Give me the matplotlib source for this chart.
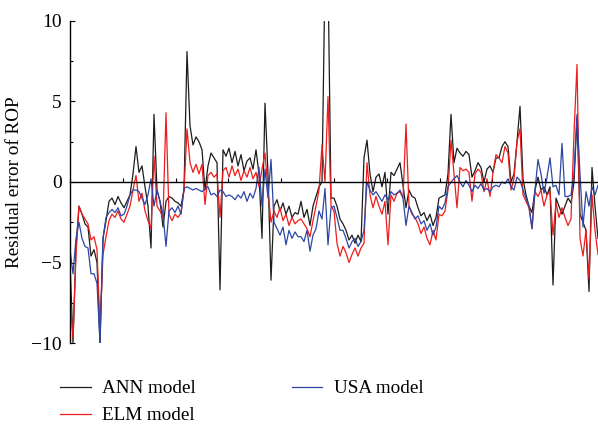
import numpy as np
import matplotlib
matplotlib.use("Agg")
import matplotlib.pyplot as plt
from matplotlib.ticker import MultipleLocator

# Residual error of ROP for each model along the sample sequence
ann_model = [
    -5.0, -10.0, -4.0, -1.5, -2.0, -2.6, -2.8, -4.6, -4.2, -5.0,
    -10.0, -3.5, -2.4, -1.2, -1.0, -1.4, -0.9, -1.3, -1.6, -1.2,
    -0.8, 0.5, 2.2, 0.6, 1.0, -0.3, -1.5, -4.1, 4.2, -0.5,
    -1.2, -2.8, -1.2, -0.9, -1.0, -1.2, -1.3, -1.5, -0.5, 8.1,
    3.5, 2.3, 2.8, 2.5, 2.0, -0.5, 1.0, 1.8, 1.5, 1.2,
    -6.7, 2.0, 1.6, 2.1, 1.2, 1.9, 1.0, 1.7, 0.7, 1.3,
    1.5, 0.8, 2.0, 0.5, -3.5, 4.9, 0.5, -6.1, -1.5, -1.1,
    -1.8, -1.3, -2.0, -1.5, -2.2, -1.9, -2.0, -1.2, -2.2, -1.7,
    -2.7, -1.5, -0.9, -0.3, 0.0, 13.0, 13.0, -1.0, -1.0, -1.5,
    -2.3, -2.6, -3.0, -3.6, -3.3, -3.8, -3.3, -3.7, 1.5, 2.6,
    0.5, -0.6, 0.3, 0.5, -0.3, 0.6, -2.0, 0.6, 0.4, 0.8,
    1.2, -0.2, -1.6, -0.5, -0.9, -1.0, -1.6, -2.1, -1.9, -2.4,
    -2.0, -2.7, -2.2, -1.0, -0.9, -0.8, 0.5, 4.2, 1.2, 2.1,
    1.8, 1.6, 1.9, 1.7, 0.3, 0.7, 1.2, 0.9, 0.0, 0.8,
    1.0, 0.6, 1.5, 1.5, 2.2, 2.5, 2.2, 0.0, 0.5, 2.5,
    4.7, 0.2, -0.8, -1.5, -1.9, -0.5, 0.3, -0.5, -0.3, -0.8,
    -0.3, -6.4, -1.0, -1.5, -2.0, -1.5, -1.0, -1.3, 0.0, 4.0,
    -2.0, -2.5, -3.0, -6.8, 0.9, -1.5, -3.5,
]

elm_model = [
    -7.0, -9.7, -4.5, -1.5, -2.0, -2.3, -2.6, -3.6, -3.4, -4.2,
    -9.0, -4.5, -3.4, -2.4, -2.0, -2.2, -1.8, -2.3, -2.5, -2.0,
    -1.5, -0.5, 0.4, -1.2, -0.7, -1.8, -2.4, -2.9, 1.6, -1.5,
    -1.8, -2.2, 4.3, -2.0, -2.4, -2.0, -2.2, -1.9, -0.5, 3.3,
    1.2, 0.6, 1.1, 0.5, 1.1, -1.4, 0.4, 0.6, 0.3, 0.5,
    -2.2, 0.7, 0.9, 0.3, 1.0, 0.4, 0.8, 0.1, 0.7, 0.3,
    0.9, 0.2, 0.6, -0.3, 0.8, 1.8, -0.5, -2.5, -1.8, -2.2,
    -1.6, -2.4, -2.0, -2.7, -2.2, -2.6, -2.4, -2.3, -2.6, -2.9,
    -3.4, -2.4, -1.5, -0.5, 2.3, 0.0, 5.3, -1.5, -1.8, -3.8,
    -4.6, -4.0, -4.4, -5.0, -4.5, -4.1, -4.6, -4.1, -3.8, 1.2,
    -0.8, -1.6, -0.9, -1.5, -2.0, -1.2, -3.9, -0.8, -1.2, -0.7,
    -0.6, -1.0, 3.6, -1.5, -2.0, -2.2, -2.6, -3.2, -2.8, -3.5,
    -3.9, -3.0, -3.6, -2.0, -2.1, -1.8, -0.5, 2.6, 0.5, -1.6,
    0.9, 0.7, 0.8, 0.6, -1.2, 0.5, 0.8, 0.6, -0.6, 0.2,
    -0.9, 0.6, 1.7, 1.5, 1.2, 2.2, 1.8, -0.5, 0.2, 2.5,
    3.3, -0.8, -1.2, -1.6, -2.9, -0.6, -0.9, -0.5, -1.5, -0.8,
    -0.6, -3.3, -1.3, -2.2, -1.6, -2.2, -2.7, -2.3, 3.0, 7.3,
    -3.5, -4.6, -3.0, -6.0, -0.8, -3.0, -4.5,
]

usa_model = [
    -4.2, -5.7, -3.5, -2.5, -3.5, -4.0, -4.1, -5.7, -5.7, -6.3,
    -10.0, -3.5, -2.2, -1.9, -1.7, -1.9, -1.6, -2.1, -2.0, -1.5,
    -0.8, -0.5, -0.5, -0.6, -1.0, -1.4, -0.8, 0.2, -1.5, -0.5,
    -1.2, -2.0, -4.0, -1.8, -1.6, -1.9, -1.5, -2.0, -0.4, -0.3,
    -0.4, -0.5, -0.4, -0.5, -0.6, -0.4, -0.3, -0.8, -0.7, -0.9,
    -0.5, -0.6, -0.9, -0.8, -0.9, -1.1, -0.8, -1.0, -0.6, -1.2,
    -0.7, -1.0, -0.4, 0.9, -1.5, 0.8, -1.0, 1.4, -2.5, -2.9,
    -3.3, -2.8, -3.9, -3.0, -3.5, -3.1, -3.4, -3.4, -3.7, -3.0,
    -4.3, -3.3, -2.9, -1.8, -2.3, -0.4, -3.9, -1.6, -1.5, -2.2,
    -3.0, -3.0, -3.5, -4.1, -3.7, -3.5, -4.0, -3.7, -3.0, 0.0,
    -0.5, -0.8, -0.6, -0.9, -1.2, -0.8, -1.1, -0.6, -0.8, -0.7,
    -0.5, -1.0, -2.7, -1.5, -1.9, -2.3, -2.1, -2.6, -2.4, -3.0,
    -2.6, -3.3, -2.8, -1.5, -1.7, -1.3, -0.3, 0.0, 0.2, 0.4,
    0.0, -0.3, 0.1, -0.2, -0.6, -0.2, -0.4, -0.1, -0.5, -0.4,
    -0.6, -0.3, -0.2, -0.3, 0.0, -0.1, 0.2, -0.3, -0.5, 0.3,
    0.1, -0.5, -1.0, -1.5, -2.9, -0.5, 1.4, 0.5, -0.7, 0.3,
    1.5, -0.3, -0.2, -0.8, 2.4, -0.9, -0.9, -0.8, 0.5, 4.2,
    0.5, -2.8, -0.6, -1.5, -0.3, -0.8, -0.2,
]

series_labels = ["ANN model", "ELM model", "USA model"]
series_colors = ["#1c1c1c", "#ee1c1c", "#2c46a6"]
y_ticks = [-10, -5, 0, 5, 10]

serif = ["Liberation Serif", "DejaVu Serif"]
plt.rcParams["font.family"] = serif

fig = plt.figure(figsize=(5.98, 4.25), dpi=100)
ax = fig.add_axes([70 / 598, 1 - 343 / 425, 528 / 598, 322 / 425])

sample = np.arange(len(ann_model))
lines = []
for values, label, color in zip([ann_model, elm_model, usa_model],
                                series_labels, series_colors):
    (ln,) = ax.plot(sample, values, color=color, lw=0.9, label=label)
    lines.append(ln)

ax.set_xlim(0, len(ann_model) - 1)
ax.set_ylim(-10, 10)

# axis through zero, left spine only
for side in ("top", "right"):
    ax.spines[side].set_visible(False)
ax.spines["bottom"].set_position(("data", 0))
ax.spines["bottom"].set_linewidth(1.0)
ax.spines["left"].set_linewidth(1.0)

ax.set_xticks(np.linspace(0, len(ann_model) - 1, 11))
ax.tick_params(axis="x", direction="in", length=3, width=0.8,
               labelbottom=False)

ax.set_yticks(y_ticks)
ax.yaxis.set_minor_locator(MultipleLocator(2.5))
ax.tick_params(axis="y", which="major", direction="in", length=3.5,
               width=0.8, pad=6, labelsize=14)
ax.tick_params(axis="y", which="minor", direction="in", length=2.5,
               width=0.8)

ax.set_ylabel("Residual error of ROP", fontsize=13.8, labelpad=6)

fig.legend(handles=lines, labels=series_labels, loc="upper left",
           bbox_to_anchor=(60 / 598, 1 - 380 / 425), ncol=2,
           frameon=False, fontsize=13.8, handlelength=1.6,
           handletextpad=0.6, columnspacing=5.0, labelspacing=0.5,
           borderpad=0, borderaxespad=0)

fig.savefig("out.png", dpi=100)
